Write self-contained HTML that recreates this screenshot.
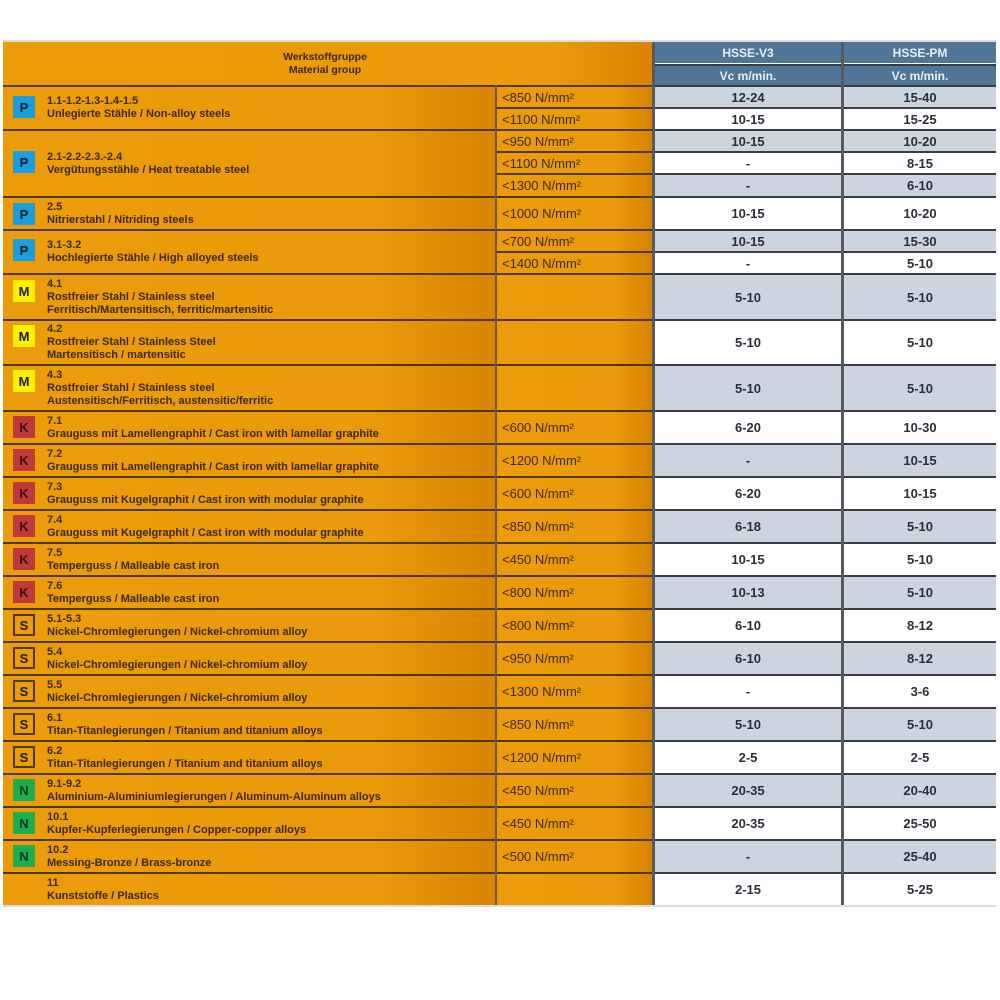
<!DOCTYPE html>
<html><head><meta charset="utf-8"><style>
*{margin:0;padding:0;box-sizing:border-box}
body{width:1000px;height:1000px;background:#fff;position:relative;font-family:"Liberation Sans",sans-serif;overflow:hidden}
.c{position:absolute;border-top:2px solid #4a3a22}
.o{background:linear-gradient(to right,#ec9c0b 0%,#ea9a0a 75%,#d98300 100%)}
.m{left:3px;width:492px}
.s{left:497px;width:155px;font-size:13px;color:#3a2a10;padding-left:5px;display:flex;align-items:center}
.v{left:655px;width:186px;border-top-color:#3a3d44}
.p{left:844px;width:152px;border-top-color:#3a3d44}
.v,.p{display:flex;align-items:center;justify-content:center;font-weight:bold;font-size:13px;color:#2a2f3a}
.g{background:#ccd5df}.w{background:#fff}
.t{position:absolute;left:44px;top:0;bottom:0;display:flex;flex-direction:column;justify-content:center;font-size:11px;font-weight:bold;color:#3a2a10;line-height:13px}
.b{position:absolute;left:10px;width:22px;height:22px;font-weight:bold;font-size:13px;display:flex;align-items:center;justify-content:center;color:#1a1a1a}
.P{background:#1a9ee0}.M{background:#fff200}.K{background:#c03a3c;color:#3a1010}.S{border:2px solid #4a3a22}.N{background:#1fae4f;color:#0d3a1a}
.h{position:absolute;background:#4f7696;color:#e8eef4;font-weight:bold;font-size:12px;display:flex;align-items:center;justify-content:center}
</style></head><body>
<div style="position:absolute;left:3px;top:40px;width:993px;height:2px;background:#ddd"></div>
<div style="position:absolute;left:3px;top:42px;width:649px;height:43px;background:linear-gradient(to right,#ec9c0b 0%,#ea9a0a 85%,#d98300 100%)"></div>
<div style="position:absolute;left:200px;top:51px;width:250px;text-align:center;font-size:10.5px;font-weight:bold;color:#3a2a10;line-height:13px">Werkstoffgruppe<br>Material group</div>
<div class="h" style="left:655px;top:42px;width:186px;height:21px">HSSE-V3</div>
<div class="h" style="left:844px;top:42px;width:152px;height:21px">HSSE-PM</div>
<div class="h" style="left:655px;top:64px;width:186px;height:21px;font-size:12px;border-top:2px solid #3a3d44">Vc m/min.</div>
<div class="h" style="left:844px;top:64px;width:152px;height:21px;font-size:12px;border-top:2px solid #3a3d44">Vc m/min.</div>
<div style="position:absolute;left:652px;top:42px;width:3px;height:863px;background:#555a60"></div>
<div style="position:absolute;left:841px;top:42px;width:3px;height:863px;background:#555a60"></div>
<div style="position:absolute;left:495px;top:85px;width:2px;height:820px;background:#6a5a44"></div>

<div class="c o m" style="top:85px;height:44px"><div class="b P" style="top:9px">P</div><div class="t"><span>1.1-1.2-1.3-1.4-1.5</span><span>Unlegierte Stähle / Non-alloy steels</span></div></div>
<div class="c o m" style="top:129px;height:67px"><div class="b P" style="top:20px">P</div><div class="t"><span>2.1-2.2-2.3.-2.4</span><span>Vergütungsstähle / Heat treatable steel</span></div></div>
<div class="c o m" style="top:196px;height:33px"><div class="b P" style="top:5px">P</div><div class="t"><span>2.5</span><span>Nitrierstahl / Nitriding steels</span></div></div>
<div class="c o m" style="top:229px;height:44px"><div class="b P" style="top:8px">P</div><div class="t"><span>3.1-3.2</span><span>Hochlegierte Stähle / High alloyed steels</span></div></div>
<div class="c o m" style="top:273px;height:46px"><div class="b M" style="top:5px">M</div><div class="t"><span>4.1</span><span>Rostfreier Stahl / Stainless steel</span><span>Ferritisch/Martensitisch, ferritic/martensitic</span></div></div>
<div class="c o m" style="top:319px;height:45px"><div class="b M" style="top:4px">M</div><div class="t"><span>4.2</span><span>Rostfreier Stahl / Stainless Steel</span><span>Martensitisch / martensitic</span></div></div>
<div class="c o m" style="top:364px;height:46px"><div class="b M" style="top:4px">M</div><div class="t"><span>4.3</span><span>Rostfreier Stahl / Stainless steel</span><span>Austensitisch/Ferritisch, austensitic/ferritic</span></div></div>
<div class="c o m" style="top:410px;height:33px"><div class="b K" style="top:4px">K</div><div class="t"><span>7.1</span><span>Grauguss mit Lamellengraphit / Cast iron with lamellar graphite</span></div></div>
<div class="c o m" style="top:443px;height:33px"><div class="b K" style="top:4px">K</div><div class="t"><span>7.2</span><span>Grauguss mit Lamellengraphit / Cast iron with lamellar graphite</span></div></div>
<div class="c o m" style="top:476px;height:33px"><div class="b K" style="top:4px">K</div><div class="t"><span>7.3</span><span>Grauguss mit Kugelgraphit / Cast iron with modular graphite</span></div></div>
<div class="c o m" style="top:509px;height:33px"><div class="b K" style="top:4px">K</div><div class="t"><span>7.4</span><span>Grauguss mit Kugelgraphit / Cast iron with modular graphite</span></div></div>
<div class="c o m" style="top:542px;height:33px"><div class="b K" style="top:4px">K</div><div class="t"><span>7.5</span><span>Temperguss / Malleable cast iron</span></div></div>
<div class="c o m" style="top:575px;height:33px"><div class="b K" style="top:4px">K</div><div class="t"><span>7.6</span><span>Temperguss / Malleable cast iron</span></div></div>
<div class="c o m" style="top:608px;height:33px"><div class="b S" style="top:4px">S</div><div class="t"><span>5.1-5.3</span><span>Nickel-Chromlegierungen / Nickel-chromium alloy</span></div></div>
<div class="c o m" style="top:641px;height:33px"><div class="b S" style="top:4px">S</div><div class="t"><span>5.4</span><span>Nickel-Chromlegierungen / Nickel-chromium alloy</span></div></div>
<div class="c o m" style="top:674px;height:33px"><div class="b S" style="top:4px">S</div><div class="t"><span>5.5</span><span>Nickel-Chromlegierungen / Nickel-chromium alloy</span></div></div>
<div class="c o m" style="top:707px;height:33px"><div class="b S" style="top:4px">S</div><div class="t"><span>6.1</span><span>Titan-Titanlegierungen / Titanium and titanium alloys</span></div></div>
<div class="c o m" style="top:740px;height:33px"><div class="b S" style="top:4px">S</div><div class="t"><span>6.2</span><span>Titan-Titanlegierungen / Titanium and titanium alloys</span></div></div>
<div class="c o m" style="top:773px;height:33px"><div class="b N" style="top:4px">N</div><div class="t"><span>9.1-9.2</span><span>Aluminium-Aluminiumlegierungen / Aluminum-Aluminum alloys</span></div></div>
<div class="c o m" style="top:806px;height:33px"><div class="b N" style="top:4px">N</div><div class="t"><span>10.1</span><span>Kupfer-Kupferlegierungen / Copper-copper alloys</span></div></div>
<div class="c o m" style="top:839px;height:33px"><div class="b N" style="top:4px">N</div><div class="t"><span>10.2</span><span>Messing-Bronze / Brass-bronze</span></div></div>
<div class="c o m" style="top:872px;height:33px"><div class="t"><span>11</span><span>Kunststoffe / Plastics</span></div></div>

<div class="c o s" style="top:85px;height:22px">&lt;850 N/mm²</div><div class="c v g" style="top:85px;height:22px">12-24</div><div class="c p g" style="top:85px;height:22px">15-40</div>
<div class="c o s" style="top:107px;height:22px">&lt;1100 N/mm²</div><div class="c v w" style="top:107px;height:22px">10-15</div><div class="c p w" style="top:107px;height:22px">15-25</div>
<div class="c o s" style="top:129px;height:22px">&lt;950 N/mm²</div><div class="c v g" style="top:129px;height:22px">10-15</div><div class="c p g" style="top:129px;height:22px">10-20</div>
<div class="c o s" style="top:151px;height:22px">&lt;1100 N/mm²</div><div class="c v w" style="top:151px;height:22px">-</div><div class="c p w" style="top:151px;height:22px">8-15</div>
<div class="c o s" style="top:173px;height:23px">&lt;1300 N/mm²</div><div class="c v g" style="top:173px;height:23px">-</div><div class="c p g" style="top:173px;height:23px">6-10</div>
<div class="c o s" style="top:196px;height:33px">&lt;1000 N/mm²</div><div class="c v w" style="top:196px;height:33px">10-15</div><div class="c p w" style="top:196px;height:33px">10-20</div>
<div class="c o s" style="top:229px;height:22px">&lt;700 N/mm²</div><div class="c v g" style="top:229px;height:22px">10-15</div><div class="c p g" style="top:229px;height:22px">15-30</div>
<div class="c o s" style="top:251px;height:22px">&lt;1400 N/mm²</div><div class="c v w" style="top:251px;height:22px">-</div><div class="c p w" style="top:251px;height:22px">5-10</div>
<div class="c o s" style="top:273px;height:46px"></div><div class="c v g" style="top:273px;height:46px">5-10</div><div class="c p g" style="top:273px;height:46px">5-10</div>
<div class="c o s" style="top:319px;height:45px"></div><div class="c v w" style="top:319px;height:45px">5-10</div><div class="c p w" style="top:319px;height:45px">5-10</div>
<div class="c o s" style="top:364px;height:46px"></div><div class="c v g" style="top:364px;height:46px">5-10</div><div class="c p g" style="top:364px;height:46px">5-10</div>
<div class="c o s" style="top:410px;height:33px">&lt;600 N/mm²</div><div class="c v w" style="top:410px;height:33px">6-20</div><div class="c p w" style="top:410px;height:33px">10-30</div>
<div class="c o s" style="top:443px;height:33px">&lt;1200 N/mm²</div><div class="c v g" style="top:443px;height:33px">-</div><div class="c p g" style="top:443px;height:33px">10-15</div>
<div class="c o s" style="top:476px;height:33px">&lt;600 N/mm²</div><div class="c v w" style="top:476px;height:33px">6-20</div><div class="c p w" style="top:476px;height:33px">10-15</div>
<div class="c o s" style="top:509px;height:33px">&lt;850 N/mm²</div><div class="c v g" style="top:509px;height:33px">6-18</div><div class="c p g" style="top:509px;height:33px">5-10</div>
<div class="c o s" style="top:542px;height:33px">&lt;450 N/mm²</div><div class="c v w" style="top:542px;height:33px">10-15</div><div class="c p w" style="top:542px;height:33px">5-10</div>
<div class="c o s" style="top:575px;height:33px">&lt;800 N/mm²</div><div class="c v g" style="top:575px;height:33px">10-13</div><div class="c p g" style="top:575px;height:33px">5-10</div>
<div class="c o s" style="top:608px;height:33px">&lt;800 N/mm²</div><div class="c v w" style="top:608px;height:33px">6-10</div><div class="c p w" style="top:608px;height:33px">8-12</div>
<div class="c o s" style="top:641px;height:33px">&lt;950 N/mm²</div><div class="c v g" style="top:641px;height:33px">6-10</div><div class="c p g" style="top:641px;height:33px">8-12</div>
<div class="c o s" style="top:674px;height:33px">&lt;1300 N/mm²</div><div class="c v w" style="top:674px;height:33px">-</div><div class="c p w" style="top:674px;height:33px">3-6</div>
<div class="c o s" style="top:707px;height:33px">&lt;850 N/mm²</div><div class="c v g" style="top:707px;height:33px">5-10</div><div class="c p g" style="top:707px;height:33px">5-10</div>
<div class="c o s" style="top:740px;height:33px">&lt;1200 N/mm²</div><div class="c v w" style="top:740px;height:33px">2-5</div><div class="c p w" style="top:740px;height:33px">2-5</div>
<div class="c o s" style="top:773px;height:33px">&lt;450 N/mm²</div><div class="c v g" style="top:773px;height:33px">20-35</div><div class="c p g" style="top:773px;height:33px">20-40</div>
<div class="c o s" style="top:806px;height:33px">&lt;450 N/mm²</div><div class="c v w" style="top:806px;height:33px">20-35</div><div class="c p w" style="top:806px;height:33px">25-50</div>
<div class="c o s" style="top:839px;height:33px">&lt;500 N/mm²</div><div class="c v g" style="top:839px;height:33px">-</div><div class="c p g" style="top:839px;height:33px">25-40</div>
<div class="c o s" style="top:872px;height:33px"></div><div class="c v w" style="top:872px;height:33px">2-15</div><div class="c p w" style="top:872px;height:33px">5-25</div>
<div style="position:absolute;left:3px;top:905px;width:993px;height:2px;background:#d8dde2"></div>
</body></html>
